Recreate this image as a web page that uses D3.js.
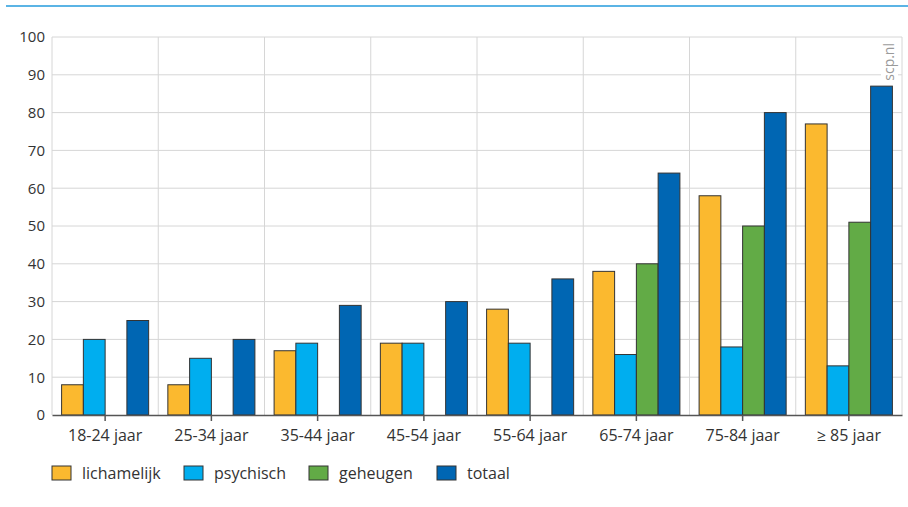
<!DOCTYPE html>
<html lang="nl">
<head>
    <meta charset="UTF-8">
    <title>Beperkingen naar leeftijd</title>
    <script src="https://cdnjs.cloudflare.com/ajax/libs/d3/7.8.5/d3.min.js"></script>
    <style>
        body { margin: 0; background: #fff; }
        text { font-family: "Open Sans", sans-serif; fill: #333; }
    </style>
</head>
<body>
    <div id="wrapper"></div>
    <script>
        // data
        const categories = ['18-24 jaar', '25-34 jaar', '35-44 jaar', '45-54 jaar', '55-64 jaar', '65-74 jaar', '75-84 jaar', '≥ 85 jaar']
        const seriesNames = ['lichamelijk', 'psychisch', 'geheugen', 'totaal']
        const lichamelijk = [8, 8, 17, 19, 28, 38, 58, 77]
        const psychisch = [20, 15, 19, 19, 19, 16, 18, 13]
        const geheugen = [null, null, null, null, null, 40, 50, 51]
        const totaal = [25, 20, 29, 30, 36, 64, 80, 87]
        const yTicks = [0, 10, 20, 30, 40, 50, 60, 70, 80, 90, 100]
        const colors = ['#fbb92f', '#00aeef', '#62ab46', '#0066b3']

        const series = [lichamelijk, psychisch, geheugen, totaal]

        const dimensions = {
            width: 908,
            height: 507,
            margin: { top: 37, right: 6, bottom: 92, left: 52 }
        }
        dimensions.boundedWidth = dimensions.width - dimensions.margin.left - dimensions.margin.right
        dimensions.boundedHeight = dimensions.height - dimensions.margin.top - dimensions.margin.bottom

        const svg = d3.select('#wrapper')
            .append('svg')
                .attr('width', dimensions.width)
                .attr('height', dimensions.height)

        // top rule
        svg.append('line')
            .attr('x1', 6).attr('x2', dimensions.width)
            .attr('y1', 6).attr('y2', 6)
            .attr('stroke', '#5bb4e5')
            .attr('stroke-width', 2)

        const bounds = svg.append('g')
            .attr('transform', `translate(${dimensions.margin.left},${dimensions.margin.top})`)

        // scales
        const x0 = d3.scaleBand()
            .domain(categories)
            .range([0, dimensions.boundedWidth])
            .padding(0)

        const x1 = d3.scaleBand()
            .domain(seriesNames)
            .range([9.6, x0.bandwidth() - 9.6])
            .padding(0)

        const yScale = d3.scaleLinear()
            .domain([0, 100])
            .range([dimensions.boundedHeight, 0])

        // grid
        const grid = bounds.append('g').attr('class', 'grid')
        grid.selectAll('.h')
            .data(yTicks.filter(d => d > 0))
            .join('line')
                .attr('x1', 0).attr('x2', dimensions.boundedWidth)
                .attr('y1', d => yScale(d)).attr('y2', d => yScale(d))
                .attr('stroke', '#d6d6d6')
        grid.selectAll('.v')
            .data(categories.concat(['end']))
            .join('line')
                .attr('x1', (d, i) => i * x0.bandwidth()).attr('x2', (d, i) => i * x0.bandwidth())
                .attr('y1', 0).attr('y2', dimensions.boundedHeight)
                .attr('stroke', '#d6d6d6')

        // watermark
        const wm = bounds.append('g')
            .attr('transform', `translate(${dimensions.boundedWidth - 8},6) rotate(-90)`)
        wm.append('rect')
            .attr('x', -45).attr('y', -13)
            .attr('width', 47).attr('height', 17)
            .attr('fill', '#fff')
        wm.append('text')
            .attr('text-anchor', 'end')
            .style('font-size', '14px')
            .style('fill', '#9a9a9a')
            .text('scp.nl')

        // bars
        const groups = bounds.selectAll('.group')
            .data(categories)
            .join('g')
                .attr('transform', d => `translate(${x0(d)},0)`)

        groups.selectAll('rect')
            .data((d, i) => seriesNames.map((s, j) => ({ s, j, v: series[j][i] })).filter(e => e.v != null))
            .join('rect')
                .attr('x', d => x1(d.s))
                .attr('width', x1.bandwidth())
                .attr('y', d => yScale(d.v))
                .attr('height', d => yScale(0) - yScale(d.v))
                .attr('fill', d => colors[d.j])
                .attr('stroke', '#333')
                .attr('stroke-width', 1)

        // axes
        const xAxis = bounds.append('g')
            .attr('transform', `translate(0,${dimensions.boundedHeight})`)
            .call(d3.axisBottom(x0).tickSize(6).tickPadding(9).tickSizeOuter(0))
        xAxis.select('.domain').attr('stroke', '#555').attr('stroke-width', 1.5)
        xAxis.selectAll('.tick line').attr('stroke', '#555').attr('stroke-width', 1.5)
        xAxis.selectAll('.tick text').style('font-size', '16px').attr('fill', '#333')

        const yAxis = bounds.append('g')
            .call(d3.axisLeft(yScale).tickValues(yTicks).tickSize(0).tickPadding(7))
        yAxis.select('.domain').remove()
        yAxis.selectAll('.tick text').style('font-size', '15px').attr('fill', '#333')

        // legend
        const legendX = [52, 184, 309, 437]
        const legend = svg.append('g')
            .attr('transform', 'translate(0,466)')
        const items = legend.selectAll('g')
            .data(seriesNames)
            .join('g')
                .attr('transform', (d, i) => `translate(${legendX[i]},0)`)
        items.append('rect')
            .attr('width', 19).attr('height', 14)
            .attr('fill', (d, i) => colors[i])
            .attr('stroke', '#333')
        items.append('text')
            .attr('x', 30).attr('y', 7)
            .attr('dy', '0.35em')
            .style('font-size', '16px')
            .text(d => d)
    </script>
</body>
</html>
